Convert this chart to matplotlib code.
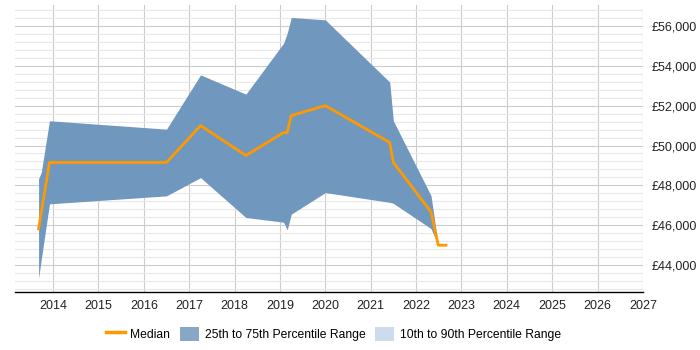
import matplotlib
matplotlib.use("Agg")
import matplotlib.pyplot as plt
from matplotlib.ticker import MultipleLocator, FuncFormatter
from matplotlib.patches import Patch
from matplotlib.lines import Line2D

plt.rcParams['font.family'] = ['Liberation Sans', 'DejaVu Sans']

years = [2013.68, 2013.74, 2013.92, 2016.50, 2017.25, 2018.25, 2019.08, 2019.16,
         2019.25, 2020.00, 2021.42, 2021.50, 2022.33, 2022.49, 2022.66]
median = [45820, 46650, 49150, 49150, 51000, 49500, 50650, 50650,
          51500, 52000, 50150, 49150, 46670, 45000, 45000]
p75 = [48330, 48660, 51240, 50820, 53540, 52575, 55130, 55630,
       56420, 56300, 53180, 51240, 47490, 45000, 45000]
p25 = [43350, 44300, 47075, 47475, 48390, 46390, 46155, 45770,
       46560, 47640, 47150, 47100, 45835, 45000, 45000]
xticks = list(range(2014, 2028))
yticks = [44000, 46000, 48000, 50000, 52000, 54000, 56000]

fig = plt.figure(figsize=(7, 3.5), dpi=100)
ax = fig.add_axes([0.0214, 0.166, 0.897, 0.82])

ax.fill_between(years, p25, p75, color='#7097bd', linewidth=0, zorder=2)
ax.plot(years, median, color='#ff9900', linewidth=2, zorder=3)

ax.set_xlim(2013.16, 2027)
ax.set_ylim(42660, 57050)
ax.set_xticks(xticks)
ax.set_yticks(yticks)
ax.yaxis.set_minor_locator(MultipleLocator(400))
ax.yaxis.tick_right()
ax.yaxis.set_major_formatter(FuncFormatter(lambda v, p: '£{:,.0f}'.format(v)))

ax.grid(which='major', axis='both', color='#cccccc', linewidth=0.8, zorder=0)
ax.grid(which='minor', axis='y', color='#e8e8e8', linewidth=0.8, zorder=0)
ax.set_axisbelow(True)

for s in ['left', 'top', 'right']:
    ax.spines[s].set_visible(False)
ax.spines['bottom'].set_color('black')
ax.spines['bottom'].set_linewidth(1)
ax.tick_params(axis='both', which='both', length=0, labelsize=9, colors='#222222')
ax.tick_params(axis='x', pad=6)
ax.tick_params(axis='y', pad=6)

handles = [Line2D([0], [0], color='#ff9900', linewidth=2.5),
           Patch(facecolor='#88a6c6', edgecolor='none'),
           Patch(facecolor='#ccdcec', edgecolor='none')]
labels = ['Median', '25th to 75th Percentile Range', '10th to 90th Percentile Range']
fig.legend(handles, labels, loc='center', bbox_to_anchor=(0.476, 0.046), ncol=3,
           frameon=False, fontsize=8.7, handlelength=1.6, handleheight=1.5,
           columnspacing=0.8, handletextpad=0.45)

fig.savefig('out.png', dpi=100)
